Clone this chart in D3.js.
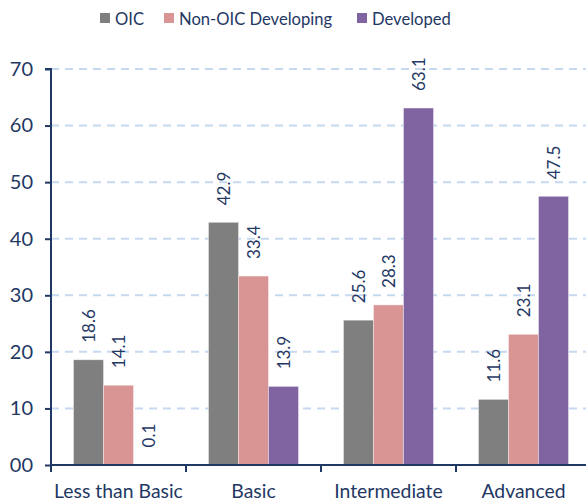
<!DOCTYPE html>
<html><head><meta charset="utf-8">
<script src="https://cdn.jsdelivr.net/npm/d3@7"></script>
<style>body{margin:0;background:#fff}svg{display:block}</style>
</head><body>
<svg id="c" width="586" height="504"></svg>
<script>
const categories = ["Less than Basic", "Basic", "Intermediate", "Advanced"];
const seriesNames = ["OIC", "Non-OIC Developing", "Developed"];
const oic = [18.6, 42.9, 25.6, 11.6];
const nonOic = [14.1, 33.4, 28.3, 23.1];
const developed = [0.1, 13.9, 63.1, 47.5];
const yTicks = [0, 10, 20, 30, 40, 50, 60, 70];
const colors = ["#7F7F7F", "#D99594", "#8064A2"];

const series = [oic, nonOic, developed];
const font = "Lato, 'Open Sans', sans-serif";
const navy = "#1F3864";
const svg = d3.select("#c");
const x0 = d3.scaleBand().domain(categories).range([51, 591]).paddingInner(1/3).paddingOuter(1/6);
const x1 = d3.scaleBand().domain(seriesNames).range([0, x0.bandwidth()]);
const y = d3.scaleLinear().domain([0, 70]).range([465, 69]);

// gridlines
svg.append("g").selectAll("line").data(yTicks.filter(d => d > 0)).join("line")
  .attr("x1", 51).attr("x2", 586).attr("y1", d => y(d)).attr("y2", d => y(d))
  .attr("stroke", "#C6D9F1").attr("stroke-width", 2).attr("stroke-dasharray", "8,6");

// bars
const g = svg.append("g");
categories.forEach((c, i) => {
  series.forEach((s, j) => {
    const v = s[i];
    g.append("rect").attr("x", x0(c) + x1(seriesNames[j])).attr("y", y(v))
      .attr("width", x1.bandwidth()).attr("height", y(0) - y(v))
      .attr("fill", colors[j]).attr("stroke", "#fff").attr("stroke-opacity", 0.5).attr("stroke-width", 0.75);
    const cx = x0(c) + x1(seriesNames[j]) + x1.bandwidth() / 2;
    g.append("text").attr("transform", `translate(${cx + 6},${y(v) - 17}) rotate(-90)`)
      .attr("font-family", font).attr("font-size", 17).attr("fill", navy)
      .text(v.toFixed(1));
  });
});

// y axis
const ya = svg.append("g").attr("transform", "translate(51,0)")
  .call(d3.axisLeft(y).tickValues(yTicks).tickFormat(d3.format("02d")).tickSize(6).tickPadding(12));
ya.select(".domain").attr("stroke", navy).attr("stroke-width", 2).attr("d", `M-6,${y(70)}H0V${y(0)}`);
ya.selectAll(".tick line").attr("stroke", navy).attr("stroke-width", 2);
ya.selectAll("text").attr("font-family", font).attr("font-size", 20).attr("fill", navy);

// x axis
const xa = svg.append("g").attr("transform", `translate(0,${y(0)})`);
xa.append("line").attr("x1", 51).attr("x2", 586).attr("stroke", navy).attr("stroke-width", 2);
const bounds = [51, ...categories.slice(1).map(c => x0(c) - x0.step() * x0.paddingInner() / 2)];
xa.selectAll("line.t").data(bounds).join("line").attr("class", "t")
  .attr("x1", d => d).attr("x2", d => d).attr("y1", 0).attr("y2", 7)
  .attr("stroke", navy).attr("stroke-width", 2);
xa.selectAll("text").data(categories).join("text")
  .attr("x", d => x0(d) + x0.bandwidth() / 2).attr("y", 33)
  .attr("text-anchor", "middle").attr("font-family", font).attr("font-size", 19.4).attr("fill", navy)
  .text(d => d);

// legend
const legX = [100, 164, 357];
const lg = svg.append("g");
seriesNames.forEach((n, j) => {
  lg.append("rect").attr("x", legX[j]).attr("y", 13).attr("width", 10).attr("height", 10).attr("fill", colors[j]);
  lg.append("text").attr("x", legX[j] + 15).attr("y", 25).attr("font-family", font).attr("font-size", 16.6)
    .attr("fill", navy).text(n);
});
</script>
</body></html>
